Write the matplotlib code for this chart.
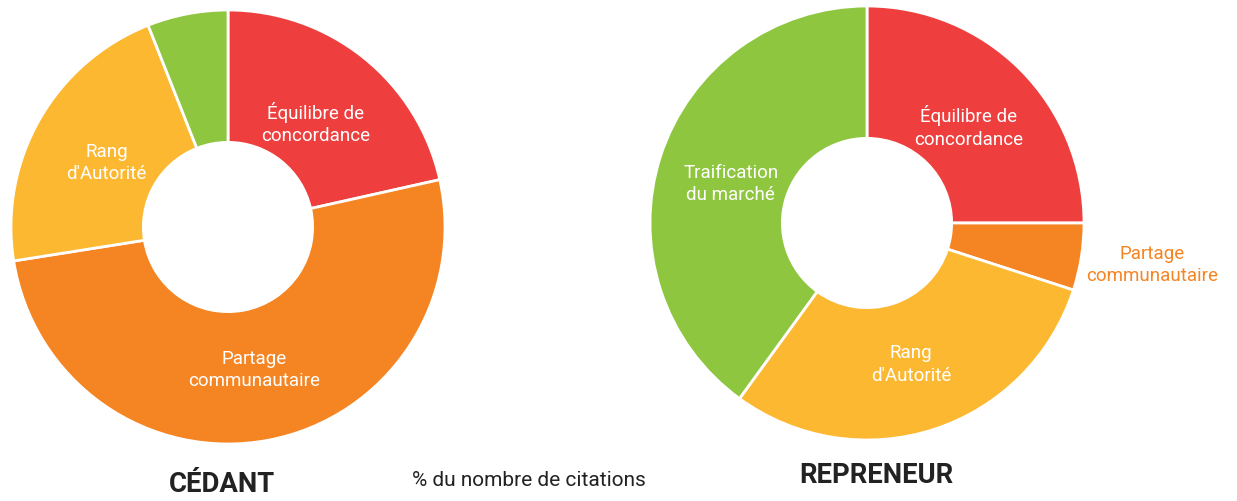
import matplotlib.pyplot as plt
import numpy as np

plt.rcParams['font.family'] = ['Roboto', 'DejaVu Sans']

# données (% du nombre de citations)
cedant_labels = ["Équilibre de\nconcordance", "Partage\ncommunautaire", "Rang\nd'Autorité", ""]
cedant_values = [21.5, 51, 21.5, 6]

repreneur_labels = ["Équilibre de\nconcordance", "Partage\ncommunautaire", "Rang\nd'Autorité", "Traification\ndu marché"]
repreneur_values = [25, 5, 30, 40]

couleurs = ['#EE3E3E', '#F58423', '#FDB832', '#8FC640']

W, H = 1237, 502
fig = plt.figure(figsize=(W / 100, H / 100), dpi=100)


def donut(cx, cy, r, valeurs, labels, dist, outside=()):
    ax = fig.add_axes([(cx - r) / W, (H - cy - r) / H, 2 * r / W, 2 * r / H])
    wedges, _ = ax.pie(valeurs, colors=couleurs, startangle=90, counterclock=False,
                       radius=1, wedgeprops=dict(width=0.61, edgecolor='white', linewidth=2))
    ax.set_xlim(-1, 1)
    ax.set_ylim(-1, 1)
    ax.set_aspect('equal')
    ax.axis('off')
    for i, (w, lab) in enumerate(zip(wedges, labels)):
        if not lab:
            continue
        ang = np.deg2rad((w.theta1 + w.theta2) / 2)
        if i in outside:
            d, col, dy = 1.33, couleurs[i], 0.02
        else:
            d, col, dy = dist, 'white', -0.02
        ax.text(d * np.cos(ang), d * np.sin(ang) + dy, lab, ha='center', va='center',
                color=col, fontsize=13.5, linespacing=1.3)
    return ax


donut(228, 228, 217, cedant_values, cedant_labels, 0.645)
donut(867, 224, 217, repreneur_values, repreneur_labels, 0.66, outside=(1,))

fig.text(222 / W, 1 - 485 / H, "CÉDANT", ha='center', va='center',
         fontsize=19.8, fontweight='bold', color='#222222')
fig.text(876 / W, 1 - 476 / H, "REPRENEUR", ha='center', va='center',
         fontsize=19.8, fontweight='bold', color='#222222')
fig.text(529 / W, 1 - 481 / H, "% du nombre de citations", ha='center', va='center',
         fontsize=15, color='#222222')

fig.savefig('out.png', dpi=100)
